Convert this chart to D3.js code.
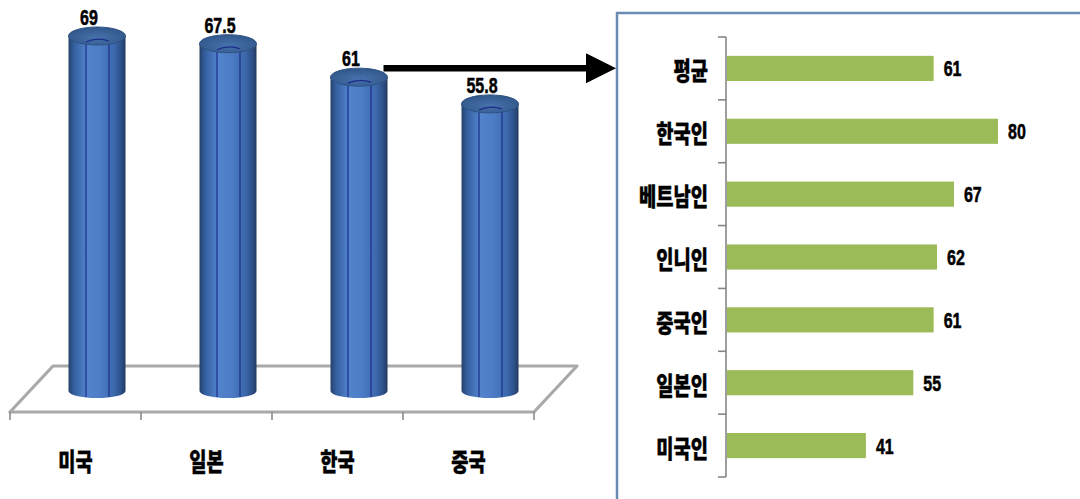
<!DOCTYPE html>
<html>
<head>
<meta charset="utf-8">
<script src="https://cdn.jsdelivr.net/npm/d3@7"></script>
<style>
  html, body { margin: 0; padding: 0; background: #ffffff; }
  svg { display: block; }
</style>
</head>
<body>
<svg id="chart" width="1080" height="499"></svg>
<script>
// Left panel: cylinder columns by country
const countries = ["미국", "일본", "한국", "중국"];
const countryValues = [69, 67.5, 61, 55.8];

// Right panel: horizontal bars by nationality
const groups = ["평균", "한국인", "베트남인", "인니인", "중국인", "일본인", "미국인"];
const groupValues = [61, 80, 67, 62, 61, 55, 41];

const svg = d3.select("#chart");
const numFont = "'Liberation Sans', Arial, sans-serif";
const krFont = "'Noto Sans CJK KR', 'Noto Sans', sans-serif";

// condensed bold labels
function krLabel(g, x, y, text, anchor) {
  g.append("text")
    .attr("transform", `translate(${x},${y}) scale(0.75,1)`)
    .attr("text-anchor", anchor)
    .attr("font-family", krFont)
    .attr("font-weight", 900)
    .attr("font-size", 25)
    .attr("fill", "#000")
    .attr("stroke", "#000").attr("stroke-width", 0.4)
    .text(text);
}
function numLabel(g, x, y, text, anchor) {
  g.append("text")
    .attr("transform", `translate(${x},${y}) scale(0.78,1.05)`)
    .attr("text-anchor", anchor)
    .attr("font-family", numFont)
    .attr("font-weight", "bold")
    .attr("font-size", 20.5)
    .attr("fill", "#000")
    .attr("stroke", "#000").attr("stroke-width", 0.5)
    .text(text);
}

// ---------- left: 3D cylinder chart ----------
const left = svg.append("g");
const depth = { dx: 43, dy: -46 };
const floorFrontY = 412;

const xFront = d3.scaleBand().domain(countries).range([10, 534]);
const yL = d3.scaleLinear().domain([0, 69]).range([391, 36]);
const rx = 28.5, ryTop = 9, ryBot = 7;
const cx = c => xFront(c) + xFront.bandwidth() / 2 + depth.dx / 2;

const defs = svg.append("defs");
const grad = defs.append("linearGradient").attr("id", "cyl").attr("x1", 0).attr("x2", 1).attr("y1", 0).attr("y2", 0);
[[0, "#25426a"], [0.1, "#3560a0"], [0.32, "#5284cc"], [0.55, "#4c7dc6"], [0.8, "#3c68ac"], [0.93, "#2c4f86"], [1, "#22395e"]]
  .forEach(([o, c]) => grad.append("stop").attr("offset", o).attr("stop-color", c));
const capGrad = defs.append("radialGradient").attr("id", "cap").attr("cx", 0.5).attr("cy", 0.6).attr("r", 0.6);
[[0, "#4772ad"], [1, "#31578a"]].forEach(([o, c]) => capGrad.append("stop").attr("offset", o).attr("stop-color", c));

// floor parallelogram
const x0 = xFront.range()[0], x1 = xFront.range()[1];
const floorPts = [
  [x0, floorFrontY], [x1, floorFrontY],
  [x1 + depth.dx, floorFrontY + depth.dy], [x0 + depth.dx, floorFrontY + depth.dy]
];
left.append("polygon")
  .attr("points", floorPts.map(p => p.join(",")).join(" "))
  .attr("fill", "none")
  .attr("stroke", "#a9a9a9")
  .attr("stroke-width", 3.2)
  .attr("stroke-linejoin", "round");
// category ticks along the front edge
const tickXs = countries.map(c => xFront(c)).concat([x1]);
left.selectAll("line.ftick").data(tickXs).join("line")
  .attr("x1", d => d).attr("x2", d => d)
  .attr("y1", floorFrontY).attr("y2", floorFrontY + 8)
  .attr("stroke", "#8a8a8a").attr("stroke-width", 1.6);

// cylinders
const cyl = left.selectAll("g.cyl").data(countries.map((c, i) => ({ c, v: countryValues[i] }))).join("g");
cyl.append("path")
  .attr("d", d => {
    const x = cx(d.c), top = yL(d.v), bot = yL(0);
    return `M${x - rx},${top} L${x - rx},${bot} A${rx},${ryBot} 0 0 0 ${x + rx},${bot} L${x + rx},${top} Z`;
  })
  .attr("fill", "url(#cyl)");
// inner panel lines
[-11, 12].forEach(off => {
  cyl.append("line")
    .attr("x1", d => cx(d.c) + off).attr("x2", d => cx(d.c) + off)
    .attr("y1", d => yL(d.v) + 5).attr("y2", d => yL(0) + ryBot - 1)
    .attr("stroke", "#1c2c8a").attr("stroke-width", 1.2);
});
// cap
cyl.append("ellipse")
  .attr("cx", d => cx(d.c)).attr("cy", d => yL(d.v))
  .attr("rx", rx).attr("ry", ryTop)
  .attr("fill", "url(#cap)").attr("stroke", "#2e5282").attr("stroke-width", 1);
cyl.append("path")
  .attr("d", d => {
    const x = cx(d.c), t = yL(d.v);
    return `M${x - 11},${t + 6} Q${x},${t + 1} ${x + 12},${t + 5}`;
  })
  .attr("fill", "none").attr("stroke", "#1c2c8a").attr("stroke-width", 1.2);
// value labels
countries.forEach((c, i) => numLabel(left, cx(c) - 8, yL(countryValues[i]) - ryTop - 2, countryValues[i], "middle"));
// category labels
countries.forEach(c => krLabel(left, xFront(c) + xFront.bandwidth() / 2, 471, c, "middle"));

// ---------- right: horizontal bar chart ----------
const panel = { x: 617, y: 13 };
svg.append("rect")
  .attr("x", panel.x).attr("y", panel.y)
  .attr("width", 560).attr("height", 560)
  .attr("fill", "#fff").attr("stroke", "#6a8cb4").attr("stroke-width", 2.5);

const right = svg.append("g");
const yR = d3.scaleBand().domain(groups).range([37, 477]).paddingInner(0.6).paddingOuter(0.3);
const xR = d3.scaleLinear().domain([0, 80]).range([727, 998]);

right.selectAll("rect.bar").data(groups.map((g, i) => ({ g, v: groupValues[i] }))).join("rect")
  .attr("x", xR(0)).attr("y", d => yR(d.g))
  .attr("width", d => xR(d.v) - xR(0)).attr("height", yR.bandwidth())
  .attr("fill", "#9bbb59");

// axis with ticks at category boundaries
const r0 = yR.range()[0], r1 = yR.range()[1];
right.append("line").attr("x1", xR(0) - 1).attr("x2", xR(0) - 1).attr("y1", r0).attr("y2", r1)
  .attr("stroke", "#868686").attr("stroke-width", 1.6);
right.selectAll("line.tick").data(d3.range(groups.length + 1)).join("line")
  .attr("x1", xR(0) - 9).attr("x2", xR(0) - 1)
  .attr("y1", i => r0 + i * yR.step()).attr("y2", i => r0 + i * yR.step())
  .attr("stroke", "#868686").attr("stroke-width", 1.6);

groups.forEach((g, i) => numLabel(right, xR(groupValues[i]) + 10, yR(g) + yR.bandwidth() / 2 + 8, groupValues[i], "start"));
groups.forEach(g => krLabel(right, 708, yR(g) + yR.bandwidth() / 2 + 12, g, "end"));

// ---------- arrow from the 한국 column to the breakdown panel ----------
const ay = yL(countryValues[2]) - ryTop;
const ax0 = cx("한국") + rx - 4;
const headLen = 31, headHalf = 15;
svg.append("line")
  .attr("x1", ax0).attr("x2", panel.x - headLen + 2)
  .attr("y1", ay).attr("y2", ay)
  .attr("stroke", "#000").attr("stroke-width", 6.5);
svg.append("polygon")
  .attr("points", `${panel.x - headLen},${ay - headHalf} ${panel.x - 1},${ay} ${panel.x - headLen},${ay + headHalf}`)
  .attr("fill", "#000");
</script>
</body>
</html>
